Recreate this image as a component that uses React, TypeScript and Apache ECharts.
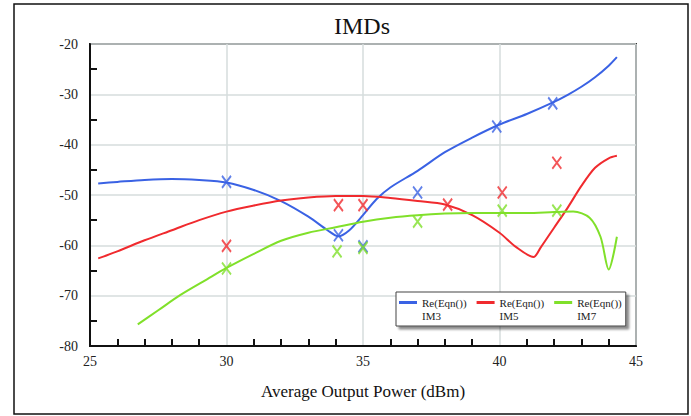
import React, { useEffect, useRef } from "react";
import * as echarts from "echarts";

const FONT = "'Liberation Serif', 'Times New Roman', serif";

const legendNames = ["Re(Eqn())\nIM3", "Re(Eqn())\nIM5", "Re(Eqn())\nIM7"];
const colors = ["#3a62e4", "#f02a2e", "#80e02a"];

// Simulated curves [x (dBm), IMD (dBc)]
const im3Curve: number[][] = [
  [25.3, -47.7], [26, -47.4], [27, -47.0], [28, -46.8], [29, -47.0], [30, -47.5],
  [31, -49.0], [32, -51.2], [33, -54.3], [33.7, -57.0], [34.1, -58.2], [34.5, -57.0],
  [35, -54.0], [35.5, -50.8], [36, -48.5], [37, -45.2], [38, -41.5], [39, -38.6],
  [40, -36.0], [41, -33.9], [42, -31.5], [42.5, -30.1], [43, -28.5], [43.5, -26.6],
  [44, -24.3], [44.3, -22.6],
];
const im5Curve: number[][] = [
  [25.3, -62.6], [26, -61.2], [27, -59.0], [28, -57.0], [29, -55.0], [30, -53.3],
  [31, -52.1], [32, -51.1], [33, -50.5], [34, -50.2], [35, -50.2], [36, -50.6],
  [37, -51.2], [38, -51.9], [39, -54.0], [40, -57.5], [40.6, -60.3], [41.25, -62.3],
  [41.5, -60.5], [42, -56.5], [42.5, -52.5], [43, -48.2], [43.5, -44.6],
  [44, -42.7], [44.3, -42.2],
];
const im7Curve: number[][] = [
  [26.75, -75.7], [27.5, -72.9], [28.3, -69.9], [29.3, -66.7], [30, -64.5],
  [31, -61.7], [32, -59.1], [33, -57.5], [34, -56.4], [35, -55.3], [36, -54.5],
  [37, -54.0], [38, -53.7], [39, -53.6], [40, -53.6], [41, -53.6], [42, -53.4],
  [42.7, -53.3], [43.3, -54.5], [43.7, -58.3], [44.0, -64.8], [44.3, -58.3],
];

// Measured points
const im3Meas: number[][] = [[30, -47.4], [34.1, -58.0], [35, -60.2], [37, -49.5], [39.9, -36.4], [41.95, -31.8]];
const im5Meas: number[][] = [[30, -60.1], [34.1, -52.0], [35, -52.0], [38.1, -51.9], [40.1, -49.5], [42.1, -43.6]];
const im7Meas: number[][] = [[30, -64.6], [34.05, -61.2], [35, -60.5], [37, -55.3], [40.1, -53.1], [42.1, -53.1]];

const xTicks = { min: 25, max: 45, interval: 5 };
const yTicks = { min: -80, max: -20, interval: 10 };

const X_SYMBOL = "path://M0,0L9,12M9,0L0,12";
const LEGEND_ICON = "path://M0,0L18,0L18,3L0,3Z M0,15.99L0.01,15.99L0.01,16L0,16Z";

export default function App() {
  const ref = useRef<HTMLDivElement>(null);
  useEffect(() => {
    if (!ref.current) return;
    const chart = echarts.init(ref.current, undefined, { renderer: "svg" });
    const curves = [im3Curve, im5Curve, im7Curve];
    const meas = [im3Meas, im5Meas, im7Meas];
    const lineSeries = curves.map((d, i) => ({
      type: "line",
      name: legendNames[i],
      data: d,
      showSymbol: false,
      smooth: 0.3,
      lineStyle: { color: colors[i], width: 2 },
      itemStyle: { color: colors[i] },
      z: 2,
    }));
    const scatterSeries = meas.map((d, i) => ({
      type: "scatter",
      name: ["IM3 meas", "IM5 meas", "IM7 meas"][i],
      data: d,
      symbol: X_SYMBOL,
      symbolSize: [9, 12],
      itemStyle: { color: "none", borderColor: colors[i], borderWidth: 2 },
      z: 3,
    }));
    chart.setOption({
      animation: false,
      backgroundColor: "#fff",
      title: {
        text: "IMDs",
        left: 334,
        top: 14,
        padding: 0,
        textStyle: { fontFamily: FONT, fontSize: 24, fontWeight: "normal", color: "#111" },
      },
      graphic: [
        {
          type: "rect",
          shape: { x: 14, y: 4, width: 674, height: 410 },
          style: { fill: "none", stroke: "#111", lineWidth: 1.5 },
          silent: true,
          z: 0,
        },
      ],
      grid: {
        left: 90,
        right: 55,
        top: 44,
        bottom: 70,
        show: true,
        borderColor: "#333",
        borderWidth: 2,
        backgroundColor: "transparent",
      },
      legend: {
        data: legendNames.map((n) => ({ name: n, icon: LEGEND_ICON })),
        left: 396,
        top: 292,
        orient: "horizontal",
        itemWidth: 18,
        itemHeight: 16,
        itemGap: 10,
        padding: [4, 4, 4, 3],
        backgroundColor: "#fff",
        borderColor: "#444",
        borderWidth: 1,
        shadowColor: "rgba(0,0,0,0.45)",
        shadowBlur: 2,
        shadowOffsetX: 3,
        shadowOffsetY: 3,
        selectedMode: false,
        textStyle: { fontFamily: FONT, fontSize: 11, lineHeight: 13, color: "#222" },
      },
      xAxis: {
        type: "value",
        min: xTicks.min,
        max: xTicks.max,
        interval: xTicks.interval,
        name: "Average Output Power (dBm)",
        nameLocation: "middle",
        nameGap: 37,
        nameTextStyle: { fontFamily: FONT, fontSize: 17, color: "#111" },
        axisLine: { show: true, lineStyle: { color: "#111", width: 2 } },
        axisTick: { show: false, inside: true },
        minorTick: { show: true, splitNumber: 5, length: 7, lineStyle: { color: "#111", width: 2 } },
        axisLabel: { fontFamily: FONT, fontSize: 14, color: "#222", margin: 8 },
        splitLine: { show: true, lineStyle: { color: "#d6dddd", width: 1.5 } },
      },
      yAxis: {
        type: "value",
        min: yTicks.min,
        max: yTicks.max,
        interval: yTicks.interval,
        axisLine: { show: true, lineStyle: { color: "#111", width: 2 } },
        axisTick: { show: false, inside: true },
        minorTick: { show: true, splitNumber: 2, length: 7, lineStyle: { color: "#111", width: 2 } },
        axisLabel: { fontFamily: FONT, fontSize: 14, color: "#222", margin: 12 },
        splitLine: { show: true, lineStyle: { color: "#d6dddd", width: 1.5 } },
      },
      series: [...lineSeries, ...scatterSeries],
    });
    return () => chart.dispose();
  }, []);
  return (
    <div
      ref={ref}
      style={{ position: "fixed", left: 0, top: 0, width: 691, height: 416, background: "#fff" }}
    />
  );
}
